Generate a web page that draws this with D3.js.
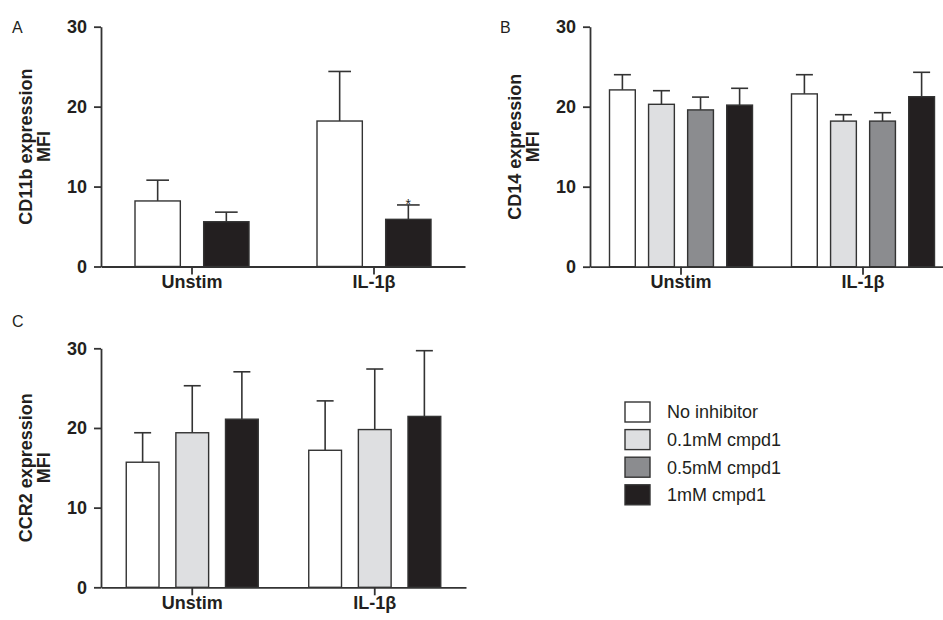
<!DOCTYPE html>
<html>
<head>
<meta charset="utf-8">
<script src="https://d3js.org/d3.v7.min.js"></script>
<title>Expression MFI</title>
<style>
  body { margin: 0; background: #fff; }
  text { font-family: "Liberation Sans", Arial, sans-serif; fill: #231f20; }
</style>
</head>
<body>
<script>

// categories and series
var groups = ["Unstim", "IL-1\u03b2"];
var seriesNames = ["No inhibitor", "0.1mM cmpd1", "0.5mM cmpd1", "1mM cmpd1"];
var seriesColors = ["#ffffff", "#dedfe1", "#8b8c8f", "#231f20"];
var yTicks = [0, 10, 20, 30];

// panel A - CD11b (mean, error) per group, series order as cd11bSeries
var cd11bSeries = ["No inhibitor", "1mM cmpd1"];
var cd11bMean = [[8.2, 5.6], [18.2, 5.9]];
var cd11bErr = [[2.6, 1.2], [6.2, 1.8]];
var cd11bStar = [[false, false], [false, true]];

// panel B - CD14
var cd14Series = ["No inhibitor", "0.1mM cmpd1", "0.5mM cmpd1", "1mM cmpd1"];
var cd14Mean = [[22.1, 20.3, 19.6, 20.2], [21.6, 18.2, 18.2, 21.25]];
var cd14Err = [[1.9, 1.7, 1.6, 2.1], [2.4, 0.8, 1.05, 3.05]];

// panel C - CCR2
var ccr2Series = ["No inhibitor", "0.1mM cmpd1", "1mM cmpd1"];
var ccr2Mean = [[15.7, 19.4, 21.1], [17.2, 19.8, 21.45]];
var ccr2Err = [[3.7, 5.9, 5.95], [6.2, 7.6, 8.25]];

var color = d3.scaleOrdinal().domain(seriesNames).range(seriesColors);

var svg = d3.select("body").append("svg")
    .attr("width", 943)
    .attr("height", 620);

svg.append("rect").attr("width", 943).attr("height", 620).attr("fill", "#fff");

function drawPanel(p) {
  var g = svg.append("g");

  var y = d3.scaleLinear().domain([0, 30]).range([p.y0, p.y1]);
  var x = d3.scaleBand().domain(groups).range([p.x0, p.x1]).padding(0);
  var inner = d3.scaleBand().domain(p.series)
      .range([-p.gw / 2, p.gw / 2]).paddingInner(0.34).paddingOuter(0);
  var bw = inner.bandwidth();
  var cap = Math.max(17, bw / 2);

  var rows = [];
  groups.forEach(function(grp, gi) {
    p.series.forEach(function(s, si) {
      rows.push({group: grp, series: s, v: p.mean[gi][si], e: p.err[gi][si],
                 star: p.star ? p.star[gi][si] : false});
    });
  });

  function cx(d) { return x(d.group) + x.bandwidth() / 2 + inner(d.series) + bw / 2; }

  // error bars (upper only)
  var eb = g.append("g").selectAll("g").data(rows).enter().append("g")
      .attr("stroke", "#333").attr("stroke-width", 1.6);
  eb.append("line")
      .attr("x1", cx).attr("x2", cx)
      .attr("y1", function(d) { return y(d.v); })
      .attr("y2", function(d) { return y(d.v + d.e); });
  eb.append("line")
      .attr("x1", function(d) { return cx(d) - cap / 2; })
      .attr("x2", function(d) { return cx(d) + cap / 2; })
      .attr("y1", function(d) { return y(d.v + d.e); })
      .attr("y2", function(d) { return y(d.v + d.e); });

  // bars
  g.append("g").selectAll("rect").data(rows).enter().append("rect")
      .attr("x", function(d) { return cx(d) - bw / 2; })
      .attr("width", bw)
      .attr("y", function(d) { return y(d.v); })
      .attr("height", function(d) { return y(0) - y(d.v); })
      .attr("fill", function(d) { return color(d.series); })
      .attr("stroke", "#333")
      .attr("stroke-width", 1.4);

  // significance marks
  g.append("g").selectAll("text").data(rows.filter(function(d) { return d.star; }))
    .enter().append("text")
      .attr("x", cx)
      .attr("y", function(d) { return y(d.v + d.e) + 4; })
      .attr("text-anchor", "middle")
      .style("font-size", "14px")
      .text("*");

  // axes
  var ya = g.append("g")
      .attr("transform", "translate(" + p.x0 + ",0)")
      .call(d3.axisLeft(y).tickValues(yTicks).tickSize(7).tickSizeOuter(0).tickPadding(7));
  var xa = g.append("g")
      .attr("transform", "translate(0," + p.y0 + ")")
      .call(d3.axisBottom(x).tickSize(8).tickSizeOuter(0).tickPadding(1));
  [ya, xa].forEach(function(a) {
    a.selectAll("path, line").attr("stroke", "#333").attr("stroke-width", 1.8);
    a.selectAll("text")
      .style("font-family", "'Liberation Sans', Arial, sans-serif")
      .style("font-size", "18px").style("font-weight", "bold").attr("fill", "#231f20");
  });

  // y title (two lines)
  var cy = (p.y0 + p.y1) / 2;
  var t = g.append("text")
      .attr("transform", "rotate(-90)")
      .attr("text-anchor", "middle")
      .style("font-size", "18px").style("font-weight", "bold");
  t.append("tspan").attr("x", -cy).attr("y", p.x0 - 69).text(p.title);
  t.append("tspan").attr("x", -cy).attr("y", p.x0 - 51).text("MFI");

  // panel letter
  g.append("text").attr("x", p.lx).attr("y", p.ly)
      .style("font-size", "16px").text(p.letter);
}

drawPanel({letter: "A", lx: 12, ly: 33, title: "CD11b expression",
  x0: 101, x1: 465, y0: 266.5, y1: 26.7, gw: 114,
  series: cd11bSeries, mean: cd11bMean, err: cd11bErr, star: cd11bStar});

drawPanel({letter: "B", lx: 500, ly: 33, title: "CD14 expression",
  x0: 590, x1: 954, y0: 266.7, y1: 26.7, gw: 143,
  series: cd14Series, mean: cd14Mean, err: cd14Err});

drawPanel({letter: "C", lx: 12, ly: 327, title: "CCR2 expression",
  x0: 101, x1: 466, y0: 587.3, y1: 348.3, gw: 132,
  series: ccr2Series, mean: ccr2Mean, err: ccr2Err});

// legend
var legend = svg.append("g").attr("transform", "translate(625,402)");
var li = legend.selectAll("g").data(seriesNames).enter().append("g")
    .attr("transform", function(d, i) { return "translate(0," + (i * 27.6) + ")"; });
li.append("rect")
    .attr("width", 25).attr("height", 20)
    .attr("fill", function(d) { return color(d); })
    .attr("stroke", "#333").attr("stroke-width", 1.4);
li.append("text")
    .attr("x", 42).attr("y", 10).attr("dy", "0.36em")
    .style("font-size", "18px")
    .text(function(d) { return d; });

</script>
</body>
</html>
